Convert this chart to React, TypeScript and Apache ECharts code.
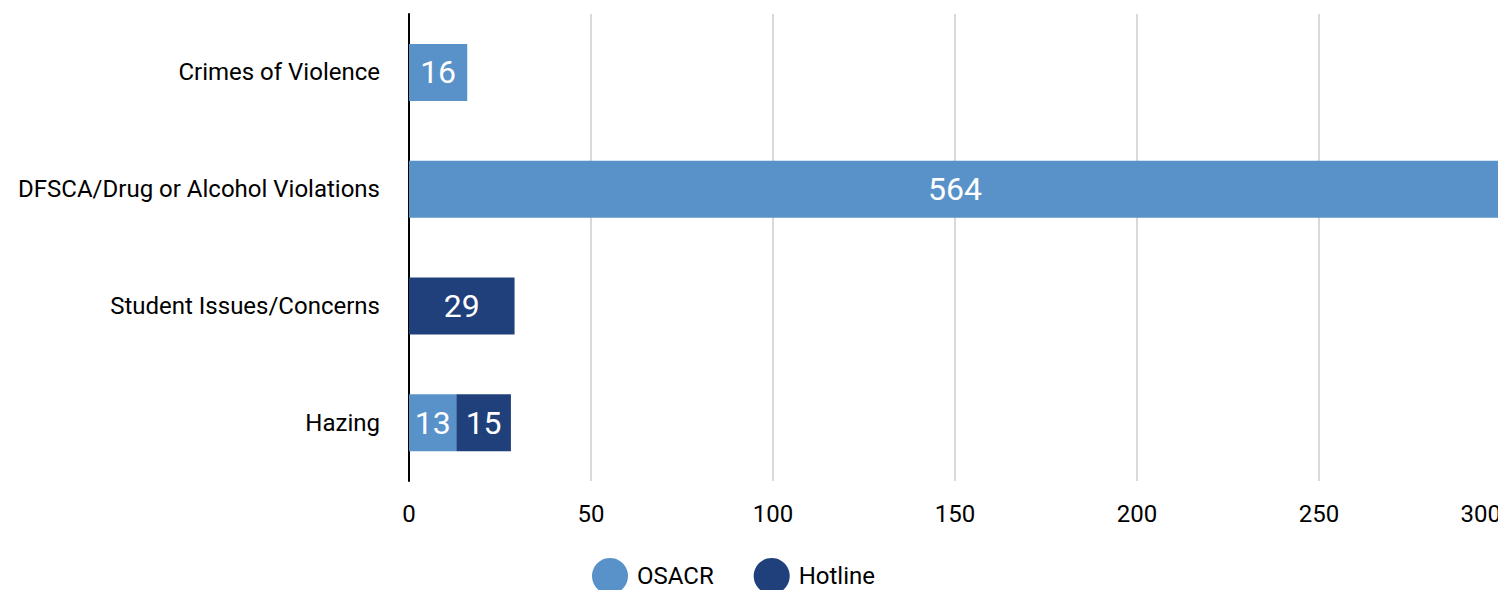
import React, { useEffect, useRef } from "react";
import * as echarts from "echarts";

const categories = [
  "Crimes of Violence",
  "DFSCA/Drug or Alcohol Violations",
  "Student Issues/Concerns",
  "Hazing",
];
const osacr: (number | null)[] = [16, 564, null, 13];
const hotline: (number | null)[] = [null, null, 29, 15];
const xTicks = { min: 0, max: 300, interval: 50 };

export default function App() {
  const ref = useRef<HTMLDivElement>(null);
  useEffect(() => {
    const chart = echarts.init(ref.current!, undefined, { renderer: "svg" });
    const font = "Roboto";
    const label = {
      show: true,
      position: "inside" as const,
      color: "#ffffff",
      fontSize: 32,
      fontFamily: font,
    };
    chart.setOption({
      animation: false,
      grid: {
        left: 409,
        right: -3,
        top: 14,
        bottom: 109,
        containLabel: false,
        outerBoundsMode: "none",
      },
      xAxis: {
        type: "value",
        min: xTicks.min,
        max: xTicks.max,
        interval: xTicks.interval,
        axisLine: { show: false },
        axisTick: { show: false },
        axisLabel: {
          color: "#000",
          fontSize: 24,
          fontFamily: font,
          margin: 21,
          alignMaxLabel: "right",
        },
        splitLine: { show: true, lineStyle: { color: "#d9d9d9", width: 2 } },
      },
      yAxis: {
        type: "category",
        inverse: true,
        data: categories,
        axisLine: { show: true, lineStyle: { color: "#000", width: 2 } },
        axisTick: { show: false },
        axisLabel: { color: "#000", fontSize: 24, fontFamily: font, margin: 29 },
      },
      legend: {
        left: 587,
        top: 553,
        icon: "circle",
        itemWidth: 36,
        itemHeight: 36,
        itemGap: 40,
        textStyle: { color: "#000", fontSize: 24, fontFamily: font, padding: [0, 0, 0, 4] },
        data: ["OSACR", "Hotline"],
      },
      series: [
        {
          name: "OSACR",
          type: "bar",
          stack: "total",
          data: osacr,
          barWidth: 57,
          itemStyle: { color: "#5992c9" },
          label,
        },
        {
          name: "Hotline",
          type: "bar",
          stack: "total",
          data: hotline,
          barWidth: 57,
          itemStyle: { color: "#1f407b" },
          label,
        },
      ],
    });
    return () => chart.dispose();
  }, []);
  return (
    <div
      ref={ref}
      style={{ position: "absolute", left: 0, top: 0, width: 1498, height: 590 }}
    />
  );
}
